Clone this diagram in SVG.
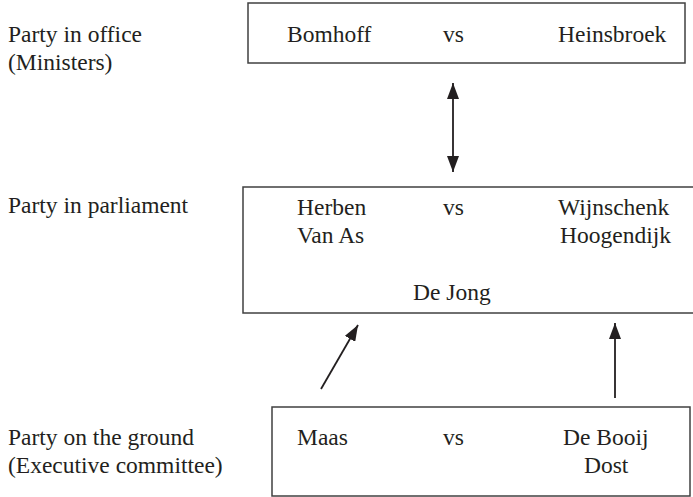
<svg xmlns="http://www.w3.org/2000/svg" width="693" height="497" viewBox="0 0 693 497">
<style>
.box{fill:#fff;stroke:#404040;stroke-width:1.5}
.con{stroke:#231f20;stroke-width:1.8;fill:none}
</style>
<defs>
<marker id="ah" viewBox="0 0 16 12" refX="16" refY="6" markerWidth="16" markerHeight="12" markerUnits="userSpaceOnUse" orient="auto-start-reverse">
<path d="M0,0 L16,6 L0,12 Z" fill="#231f20"/>
</marker>
</defs>
<rect width="693" height="497" fill="#fff"/>
<g font-family="'Times New Roman', Tinos, 'Liberation Serif', 'Noto Serif', 'DejaVu Serif', FreeSerif, Georgia, serif" font-size="23.5" fill="#231f20">
<g id="labels">
<text x="8" y="42">Party in office</text>
<text x="8" y="70">(Ministers)</text>
<text x="8" y="213">Party in parliament</text>
<text x="8" y="445">Party on the ground</text>
<text x="8" y="473">(Executive committee)</text>
</g>
<g id="office">
<rect class="box" x="248" y="3" width="437" height="60"/>
<text x="287" y="42">Bomhoff</text>
<text x="443" y="42">vs</text>
<text x="558" y="42">Heinsbroek</text>
</g>
<g id="parliament">
<rect class="box" x="243" y="187" width="460" height="126"/>
<text x="297" y="215">Herben</text>
<text x="443" y="215">vs</text>
<text x="558" y="215">Wijnschenk</text>
<text x="297" y="243">Van As</text>
<text x="560" y="243">Hoogendijk</text>
<text x="413" y="300">De Jong</text>
</g>
<g id="ground">
<rect class="box" x="272" y="407" width="418" height="89"/>
<text x="297" y="445">Maas</text>
<text x="443" y="445">vs</text>
<text x="563" y="445">De Booij</text>
<text x="584" y="473">Dost</text>
</g>
</g>
<g id="connectors">
<line class="con" x1="453" y1="83" x2="453" y2="172" marker-start="url(#ah)" marker-end="url(#ah)"/>
<line class="con" x1="321" y1="389" x2="358" y2="325" marker-end="url(#ah)"/>
<line class="con" x1="615" y1="398" x2="615" y2="323" marker-end="url(#ah)"/>
</g>
</svg>
